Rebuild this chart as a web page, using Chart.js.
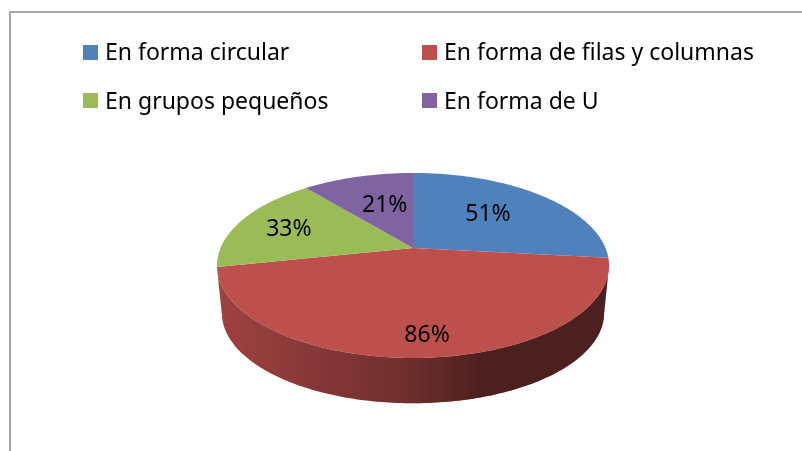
<!DOCTYPE html>
<html>
<head>
<meta charset="utf-8">
<title>Forma de organización</title>
<script src="https://cdn.jsdelivr.net/npm/chart.js@4"></script>
<style>
  html, body { margin: 0; padding: 0; background: #fff; overflow: hidden; }
  canvas { display: block; }
</style>
</head>
<body>
<canvas id="pieChart" width="802" height="451"></canvas>
<script>
const categories = ['En forma circular', 'En forma de filas y columnas', 'En grupos pequeños', 'En forma de U'];
const values = [51, 86, 33, 21];
const sliceColors = ['#4f81bd', '#bd4f4c', '#9bbb59', '#8064a2'];

// label placement along the slice radius, plus small sideways nudges
const labelRadius = [0.65, 0.81, 0.72, 0.58];
const labelNudge = [-11, 5, 1, 6];

const FONT = '23px "Noto Sans", sans-serif';
const SCALE_X = 0.9625, SCALE_Y = 0.446, PERSPECTIVE = 0.189;
const WALL_SHRINK = 0.975, WALL_DROP = 48;

// maps a pie angle (library radians, 0 = east, clockwise) to the tilted screen position
function project(arc, angle, r, shrink, drop) {
  const x = Math.cos(angle) * r, y = Math.sin(angle) * r;
  const w = 1 - PERSPECTIVE * y;
  return {
    x: arc.x + arc.outerRadius * SCALE_X * shrink * x / w,
    y: arc.y + drop + arc.outerRadius * SCALE_Y * shrink * y / w
  };
}

function traceEdge(ctx, arc, from, to, shrink, drop) {
  const steps = Math.max(2, Math.ceil(Math.abs(to - from) * 60));
  for (let i = 0; i <= steps; i++) {
    const p = project(arc, from + (to - from) * i / steps, 1, shrink, drop);
    ctx.lineTo(p.x, p.y);
  }
}

const tiltedPie = {
  id: 'tiltedPie',
  beforeDatasetsDraw(chart) {
    const ctx = chart.ctx;
    const arcs = chart.getDatasetMeta(0).data;
    // only the near side of the rim is visible
    const rimFrom = Math.asin(PERSPECTIVE), rimTo = Math.PI - rimFrom;

    arcs.forEach((arc, i) => {
      const from = Math.max(arc.startAngle, rimFrom);
      const to = Math.min(arc.endAngle, rimTo);
      if (to <= from) return;
      ctx.beginPath();
      traceEdge(ctx, arc, from, to, 1, 0);
      traceEdge(ctx, arc, to, from, WALL_SHRINK, WALL_DROP);
      ctx.closePath();
      ctx.fillStyle = sliceColors[i];
      ctx.fill();
      const left = arc.x - arc.outerRadius * SCALE_X, right = arc.x + arc.outerRadius * SCALE_X;
      const shade = ctx.createLinearGradient(left, 0, right, 0);
      shade.addColorStop(0, 'rgba(0,0,0,0.17)');
      shade.addColorStop(0.5, 'rgba(0,0,0,0.42)');
      shade.addColorStop(0.68, 'rgba(0,0,0,0.6)');
      shade.addColorStop(1, 'rgba(0,0,0,0.6)');
      ctx.fillStyle = shade;
      ctx.fill();
    });

    arcs.forEach((arc, i) => {
      ctx.beginPath();
      ctx.moveTo(arc.x, arc.y);
      traceEdge(ctx, arc, arc.startAngle, arc.endAngle, 1, 0);
      ctx.closePath();
      ctx.fillStyle = sliceColors[i];
      ctx.fill();
    });

    ctx.fillStyle = '#000';
    ctx.font = FONT;
    ctx.textAlign = 'center';
    ctx.textBaseline = 'middle';
    arcs.forEach((arc, i) => {
      const mid = (arc.startAngle + arc.endAngle) / 2;
      const p = project(arc, mid, labelRadius[i], 1, 0);
      ctx.fillText(values[i] + '%', p.x + labelNudge[i], p.y + 2);
    });
    return false;
  },
  afterDraw(chart) {
    const ctx = chart.ctx;
    // outer frame, only top and left are in the picture
    ctx.strokeStyle = '#a6a6a6';
    ctx.lineWidth = 2;
    ctx.beginPath();
    ctx.moveTo(10, 451);
    ctx.lineTo(10, 12);
    ctx.lineTo(802, 12);
    ctx.stroke();

    // legend in two aligned columns
    ctx.font = FONT;
    ctx.textAlign = 'left';
    ctx.textBaseline = 'alphabetic';
    categories.forEach((name, i) => {
      const x = i % 2 ? 422 : 83;
      const y = i < 2 ? 45 : 93;
      ctx.fillStyle = sliceColors[i];
      ctx.fillRect(x, y, 15, 15);
      ctx.fillStyle = '#000';
      ctx.fillText(name, x + 22, i < 2 ? 60 : 109);
    });
  }
};

document.addEventListener('DOMContentLoaded', function() {
  new Chart(document.getElementById('pieChart').getContext('2d'), {
    type: 'pie',
    data: {
      labels: categories,
      datasets: [{ data: values, backgroundColor: sliceColors, borderWidth: 0 }]
    },
    options: {
      responsive: false,
      animation: false,
      layout: { padding: { left: 213, right: 189, top: 48, bottom: 3 } },
      plugins: { legend: { display: false }, tooltip: { enabled: false } }
    },
    plugins: [tiltedPie]
  });
});
</script>
</body>
</html>
